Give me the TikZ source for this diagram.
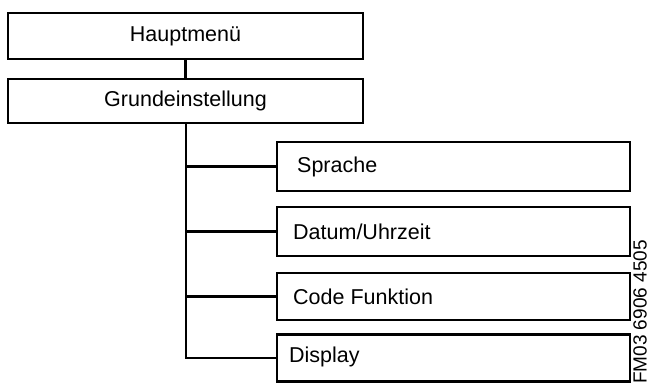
\documentclass[tikz,border=0pt]{standalone}
\usepackage{fontspec}
\setmainfont{Liberation Sans}
\begin{document}
\begin{tikzpicture}[x=1pt,y=-1pt,
  box/.style={draw, line width=2.6pt, rectangle, inner sep=0pt},
  lbl/.style={font=\fontsize{21.5}{24}\selectfont, inner sep=0pt},
  conn/.style={line width=2.6pt}]
\useasboundingbox (0,0) rectangle (648,383);
% top boxes
\node[box, minimum width=355pt, minimum height=46pt, lbl] (hm) at (185.5,36) {Hauptmenü};
\node[box, minimum width=355pt, minimum height=44pt, lbl] (ge) at (185.5,101) {Grundeinstellung};
% child boxes
\node[box, minimum width=353pt, minimum height=49pt] (sp) at (453.5,166.5) {};
\node[box, minimum width=353pt, minimum height=49pt] (dt) at (453.5,231.5) {};
\node[box, minimum width=353pt, minimum height=47pt] (cf) at (453.5,296.5) {};
\node[box, minimum width=353pt, minimum height=47pt] (dp) at (453.5,358) {};
% child texts
\node[lbl, anchor=west] (tsp) at (297,166.5) {Sprache};
\node[lbl, anchor=west] (tdt) at (293,231.5) {Datum/Uhrzeit};
\node[lbl, anchor=west] (tcf) at (293,297) {Code Funktion};
\node[lbl, anchor=west] (tdp) at (289,357) {Display};
% connectors
\coordinate (bus) at (186,358);
\draw[conn] (hm.south) -- (ge.north);
\draw[conn] (ge.south -| bus) -- (bus) -- (dp.west);
\draw[conn] (sp.west -| bus) -- (sp.west);
\draw[conn] (dt.west -| bus) -- (dt.west);
\draw[conn] (cf.west -| bus) -- (cf.west);
% code
\node[rotate=90, anchor=east, font=\fontsize{19}{21}\selectfont, inner sep=0pt] (code) at (640,240) {FM03 6906 4505};
\end{tikzpicture}
\end{document}
